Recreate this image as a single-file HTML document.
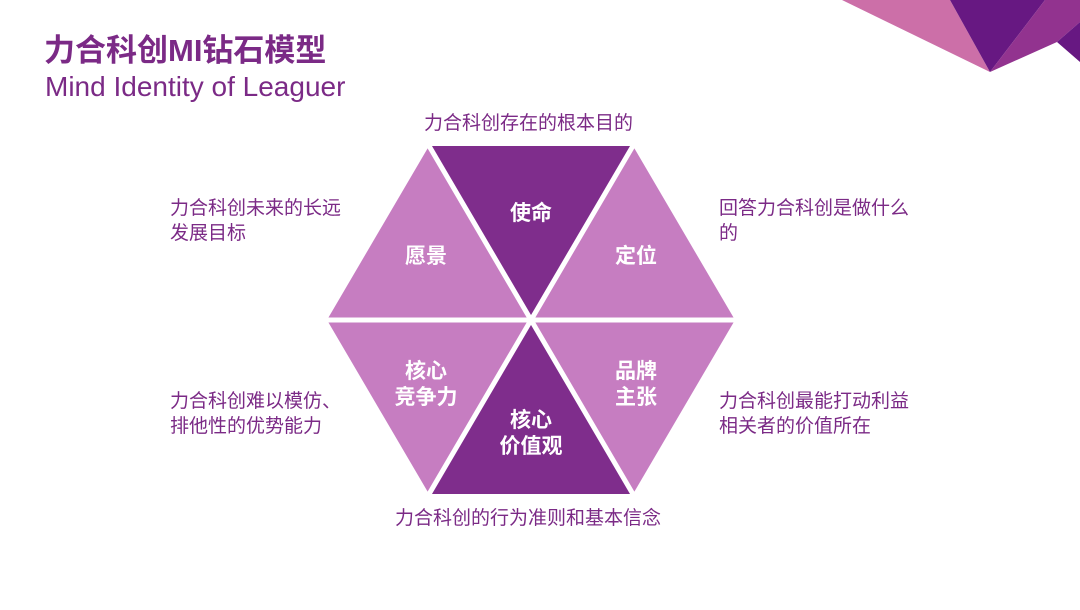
<!DOCTYPE html>
<html><head><meta charset="utf-8"><style>
body{margin:0;width:1080px;height:610px;background:#fff;overflow:hidden;position:relative;font-family:"Liberation Sans","Noto Sans CJK SC",sans-serif;}
.t{position:absolute;color:#7b2a86;font-size:19px;line-height:25px;white-space:nowrap;}
</style></head><body>
<svg width="1080" height="610" style="position:absolute;left:0;top:0">
<polygon points="842,0 950,0 990,72" fill="#cc6fa8"/>
<polygon points="950,0 1045,0 990,72" fill="#671882"/>
<polygon points="1045,0 1080,0 1080,22 1057,42 990,72" fill="#92338f"/>
<polygon points="1057,42 1080,22 1080,62" fill="#671882"/>
<g>
<polygon points="531,320 327,320 429,146" fill="#c67dc1"/>
<polygon points="531,320 429,146 633,146" fill="#7f2d8c"/>
<polygon points="531,320 633,146 735,320" fill="#c67dc1"/>
<polygon points="531,320 735,320 633,494" fill="#c67dc1"/>
<polygon points="531,320 633,494 429,494" fill="#7f2d8c"/>
<polygon points="531,320 429,494 327,320" fill="#c67dc1"/>
<g stroke="#fff" stroke-width="5">
<line x1="320" y1="320" x2="742" y2="320"/>
<line x1="425" y1="139" x2="637" y2="501"/>
<line x1="637" y1="139" x2="425" y2="501"/>
</g>
</g>
<g fill="#fff" font-family="Liberation Sans,Noto Sans CJK SC,sans-serif" font-weight="bold" font-size="21" text-anchor="middle">
<text x="531" y="220">使命</text>
<text x="426" y="263">愿景</text>
<text x="636" y="263">定位</text>
<text x="426" y="378">核心</text>
<text x="426" y="404">竞争力</text>
<text x="636" y="378">品牌</text>
<text x="636" y="404">主张</text>
<text x="531" y="427">核心</text>
<text x="531" y="453">价值观</text>
</g>
</svg>
<div style="position:absolute;left:44px;top:25px;color:#7b2a86;font-size:31px;font-weight:bold;">力合科创MI钻石模型</div>
<div style="position:absolute;left:45px;top:71px;color:#7b2a86;font-size:28px;">Mind Identity of Leaguer</div>
<div class="t" style="left:424px;top:111px">力合科创存在的根本目的</div>
<div class="t" style="left:170px;top:196px">力合科创未来的长远<br>发展目标</div>
<div class="t" style="left:719px;top:196px">回答力合科创是做什么<br>的</div>
<div class="t" style="left:170px;top:389px">力合科创难以模仿、<br>排他性的优势能力</div>
<div class="t" style="left:719px;top:389px">力合科创最能打动利益<br>相关者的价值所在</div>
<div class="t" style="left:395px;top:506px">力合科创的行为准则和基本信念</div>
</body></html>
